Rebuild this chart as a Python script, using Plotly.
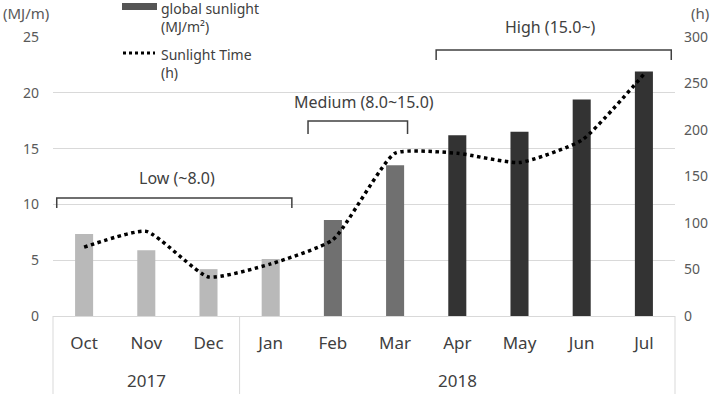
import plotly.graph_objects as go

years = ["2017", "2018"]
year_months = [["Oct", "Nov", "Dec"], ["Jan", "Feb", "Mar", "Apr", "May", "Jun", "Jul"]]
months = ["Oct", "Nov", "Dec", "Jan", "Feb", "Mar", "Apr", "May", "Jun", "Jul"]
global_sunlight = [7.35, 5.9, 4.2, 5.1, 8.6, 13.5, 16.2, 16.5, 19.4, 21.9]
sunlight_time = [74, 91, 42, 56, 82, 175, 175, 165, 189, 260]
levels = ["Low", "Low", "Low", "Low", "Medium", "Medium", "High", "High", "High", "High"]
level_labels = {"Low": "Low (~8.0)", "Medium": "Medium (8.0~15.0)", "High": "High (15.0~)"}
level_colors = {"Low": "#b9b9b9", "Medium": "#707070", "High": "#333333"}

FONT = "Noto Sans"
W, H = 714, 394
PL, PR, PT, PB = 53, 675, 37, 316  # plot area in page pixels
ML, MR, MT, MB = PL, W - PR, PT, H - PB
PW, PH = PR - PL, PB - PT


def px_x(px):
    return (px - PL) / PW


def px_y(py):
    return (PB - py) / PH


fig = go.Figure()
fig.add_trace(go.Bar(
    x=months, y=global_sunlight,
    marker=dict(color=[level_colors[l] for l in levels], line=dict(width=0)),
    name="global sunlight (MJ/m²)", showlegend=False,
))
fig.add_trace(go.Scatter(
    x=months, y=sunlight_time, yaxis="y2", mode="lines",
    line=dict(color="black", width=3.5, dash="dot", shape="spline", smoothing=0.5),
    name="Sunlight Time (h)", showlegend=False,
))

shapes = []
annotations = []

n = len(months)
bracket_style = {
    "Low": dict(pad=(-0.44, 0.34), top=198, bot=208, ly=178),
    "Medium": dict(pad=(-0.4, 0.2), top=121, bot=134, ly=102),
    "High": dict(pad=(-0.34, 0.44), top=50, bot=60, ly=27),
}
for lvl, st in bracket_style.items():
    idx = [i for i, l in enumerate(levels) if l == lvl]
    x0 = (idx[0] + st["pad"][0] + 0.5) / n
    x1 = (idx[-1] + st["pad"][1] + 0.5) / n
    yt, yb = px_y(st["top"]), px_y(st["bot"])
    path = f"M {x0},{yb} L {x0},{yt} L {x1},{yt} L {x1},{yb}"
    shapes.append(dict(type="path", path=path, xref="paper", yref="paper",
                       line=dict(color="#404040", width=1.5), layer="above"))
    cx = (idx[0] + idx[-1] + 1) / 2 / n
    annotations.append(dict(text=level_labels[lvl], x=cx, y=px_y(st["ly"]), xref="paper", yref="paper",
                            showarrow=False, font=dict(family=FONT, size=16, color="#404040"),
                            xanchor="center", yanchor="middle"))

# white masks of the label boxes over gridlines
shapes.append(dict(type="rect", xref="paper", yref="paper", x0=px_x(278), x1=px_x(470),
                   y0=px_y(112), y1=px_y(86), fillcolor="white", line=dict(width=0), layer="between"))
shapes.append(dict(type="rect", xref="paper", yref="paper", x0=px_x(495), x1=px_x(628),
                   y0=px_y(42), y1=px_y(18), fillcolor="white", line=dict(width=0), layer="between"))

# custom legend
shapes.append(dict(type="rect", xref="paper", yref="paper", x0=px_x(122), x1=px_x(157),
                   y0=px_y(10), y1=px_y(3), fillcolor="#555555", line=dict(width=0), layer="above"))
shapes.append(dict(type="line", xref="paper", yref="paper", x0=px_x(123), x1=px_x(155),
                   y0=px_y(53), y1=px_y(53), line=dict(color="black", width=3, dash="dot"), layer="above"))
annotations.append(dict(text="global sunlight<br>(MJ/m²)", x=px_x(159), y=px_y(-3), xref="paper", yref="paper",
                        showarrow=False, xanchor="left", yanchor="top", align="left",
                        font=dict(family=FONT, size=14, color="#404040")))
annotations.append(dict(text="Sunlight Time<br>(h)", x=px_x(159), y=px_y(43), xref="paper", yref="paper",
                        showarrow=False, xanchor="left", yanchor="top", align="left",
                        font=dict(family=FONT, size=14, color="#404040")))

# axis unit titles
annotations.append(dict(text="(MJ/m)", x=px_x(1), y=px_y(13), xref="paper", yref="paper",
                        showarrow=False, xanchor="left", yanchor="middle",
                        font=dict(family=FONT, size=15, color="#595959")))
annotations.append(dict(text="(h)", x=px_x(700), y=px_y(13), xref="paper", yref="paper",
                        showarrow=False, xanchor="center", yanchor="middle",
                        font=dict(family=FONT, size=15, color="#595959")))

# year group labels and dividers
start = 0
bounds = [0]
for yr, ms in zip(years, year_months):
    end = start + len(ms)
    annotations.append(dict(text=yr, x=(start + end) / 2 / n, y=px_y(380), xref="paper", yref="paper",
                            showarrow=False, xanchor="center", yanchor="middle",
                            font=dict(family=FONT, size=17, color="#404040")))
    bounds.append(end)
    start = end
for b in bounds:
    shapes.append(dict(type="line", xref="paper", yref="paper", x0=b / n, x1=b / n,
                       y0=0, y1=px_y(394), line=dict(color="#d9d9d9", width=1), layer="above"))

fig.update_layout(
    width=W, height=H,
    margin=dict(l=ML, r=MR, t=MT, b=MB, pad=0, autoexpand=False),
    paper_bgcolor="white", plot_bgcolor="white",
    bargap=0.71,
    font=dict(family=FONT, color="#595959"),
    xaxis=dict(
        type="category", showline=True, linecolor="#d9d9d9", linewidth=1, automargin=False,
        showgrid=False, ticks="", ticklabelstandoff=12,
        tickfont=dict(family=FONT, size=17, color="#404040"),
    ),
    yaxis=dict(
        range=[0, 25], dtick=5, showgrid=True, gridcolor="#d9d9d9", gridwidth=1, automargin=False,
        zeroline=False, showline=False, ticks="", ticklabelstandoff=13,
        tickfont=dict(family=FONT, size=14, color="#595959"),
    ),
    yaxis2=dict(
        range=[0, 300], dtick=50, overlaying="y", side="right", showgrid=False, automargin=False,
        zeroline=False, showline=False, ticks="", ticklabelstandoff=8,
        tickfont=dict(family=FONT, size=14, color="#595959"),
    ),
    shapes=shapes, annotations=annotations,
    showlegend=False,
)

fig.write_html(
    "out.html",
    config={"displayModeBar": False},
    post_script="document.body.style.margin='0';document.body.style.overflow='hidden';",
)
